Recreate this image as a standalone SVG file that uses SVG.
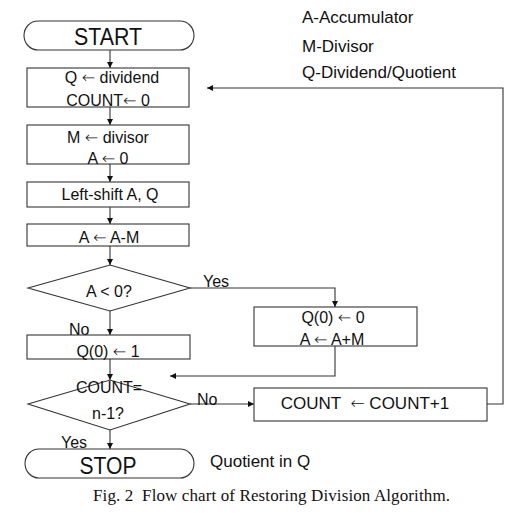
<svg xmlns="http://www.w3.org/2000/svg" width="514" height="525" viewBox="0 0 514 525">
<style>
.s{fill:#fff;stroke:#333;stroke-width:1.1}
.c{fill:none;stroke:#333;stroke-width:1.1}
.t{font-family:"Liberation Sans",Arial,sans-serif;font-size:16px;fill:#111;text-anchor:middle}
.l{font-family:"Liberation Sans",Arial,sans-serif;font-size:16px;fill:#111}
.g{font-family:"Liberation Sans",Arial,sans-serif;font-size:17px;fill:#111}
.big{font-family:"Liberation Sans",Arial,sans-serif;font-size:24px;fill:#111;text-anchor:middle}
.cap{font-family:"Liberation Serif","Times New Roman",serif;font-size:17px;fill:#111}
.ar{font-family:"DejaVu Sans",sans-serif;font-weight:200}
</style>
<defs>
<marker id="ah" markerWidth="7" markerHeight="7" refX="6" refY="3" orient="auto" markerUnits="userSpaceOnUse">
<path d="M0,0 L6,3 L0,6 Z" fill="#111"/>
</marker>
</defs>
<rect width="514" height="525" fill="#fff"/>
<g id="legend">
<text class="g" x="302" y="23">A-Accumulator</text>
<text class="g" x="302" y="52">M-Divisor</text>
<text class="g" x="302" y="78">Q-Dividend/Quotient</text>
</g>
<g id="connectors">
<path class="c" d="M110 50 V68" marker-end="url(#ah)"/>
<path class="c" d="M110 107 V125" marker-end="url(#ah)"/>
<path class="c" d="M110 164 V182" marker-end="url(#ah)"/>
<path class="c" d="M110 207 V224" marker-end="url(#ah)"/>
<path class="c" d="M110 246 V265" marker-end="url(#ah)"/>
<path class="c" d="M110 311 V335" marker-end="url(#ah)"/>
<path class="c" d="M190 288 H335 V307" marker-end="url(#ah)"/>
<path class="c" d="M335 346 V376 H170" marker-end="url(#ah)"/>
<path class="c" d="M110 359 V380" marker-end="url(#ah)"/>
<path class="c" d="M190 404 H254" marker-end="url(#ah)"/>
<path class="c" d="M110 430 V449" marker-end="url(#ah)"/>
<path class="c" d="M487 404 H503 V88 H207" marker-end="url(#ah)"/>
<text class="l" x="203" y="287">Yes</text>
<text class="l" x="69" y="335">No</text>
<text class="l" x="197" y="405">No</text>
<text class="l" x="61" y="448">Yes</text>
</g>
<g id="start">
<path class="s" d="M38 21 H180 A14 14.5 0 0 1 180 50 H38 A14 14.5 0 0 1 38 21 Z"/>
<text class="big" x="108" y="45" textLength="68" lengthAdjust="spacingAndGlyphs">START</text>
</g>
<g id="init">
<rect class="s" x="27" y="68" width="162" height="39"/>
<text class="t" x="112" y="83">Q <tspan class="ar">←</tspan> dividend</text>
<text class="t" x="108" y="106">COUNT<tspan class="ar">←</tspan> 0</text>
</g>
<g id="setm">
<rect class="s" x="27" y="125" width="162" height="39"/>
<text class="t" x="108" y="143">M <tspan class="ar">←</tspan> divisor</text>
<text class="t" x="108" y="164">A <tspan class="ar">←</tspan> 0</text>
</g>
<g id="shift">
<rect class="s" x="27" y="182" width="162" height="25"/>
<text class="t" x="110" y="200">Left-shift A, Q</text>
</g>
<g id="sub">
<rect class="s" x="27" y="224" width="162" height="22"/>
<text class="t" x="109" y="243">A <tspan class="ar">←</tspan> A-M</text>
</g>
<g id="test">
<path class="s" d="M28 288 L110 265 L190 288 L110 311 Z"/>
<text class="t" x="109" y="297">A &lt; 0?</text>
</g>
<g id="restore">
<rect class="s" x="254" y="307" width="163" height="39"/>
<text class="t" x="333" y="323">Q(0) <tspan class="ar">←</tspan> 0</text>
<text class="t" x="332" y="345">A <tspan class="ar">←</tspan> A+M</text>
</g>
<g id="setq">
<rect class="s" x="27" y="335" width="163" height="24"/>
<text class="t" x="108" y="357">Q(0) <tspan class="ar">←</tspan> 1</text>
</g>
<g id="count">
<path class="s" d="M28 404 L110 380 L190 404 L110 430 Z"/>
<text class="t" x="109" y="393">COUNT=</text>
<text class="t" x="108" y="419">n-1?</text>
</g>
<g id="inc">
<rect class="s" x="254" y="388" width="233" height="33"/>
<text class="g" x="365" y="409" text-anchor="middle" xml:space="preserve">COUNT  <tspan class="ar">←</tspan> COUNT+1</text>
</g>
<g id="stop">
<path class="s" d="M39 449 H180 A14 14.5 0 0 1 180 478 H39 A14 14.5 0 0 1 39 449 Z"/>
<text class="big" x="108" y="474" textLength="57" lengthAdjust="spacingAndGlyphs">STOP</text>
<text class="g" x="210" y="467">Quotient in Q</text>
</g>
<text class="cap" x="93" y="501" xml:space="preserve" textLength="357">Fig. 2  Flow chart of Restoring Division Algorithm.</text>
</svg>
